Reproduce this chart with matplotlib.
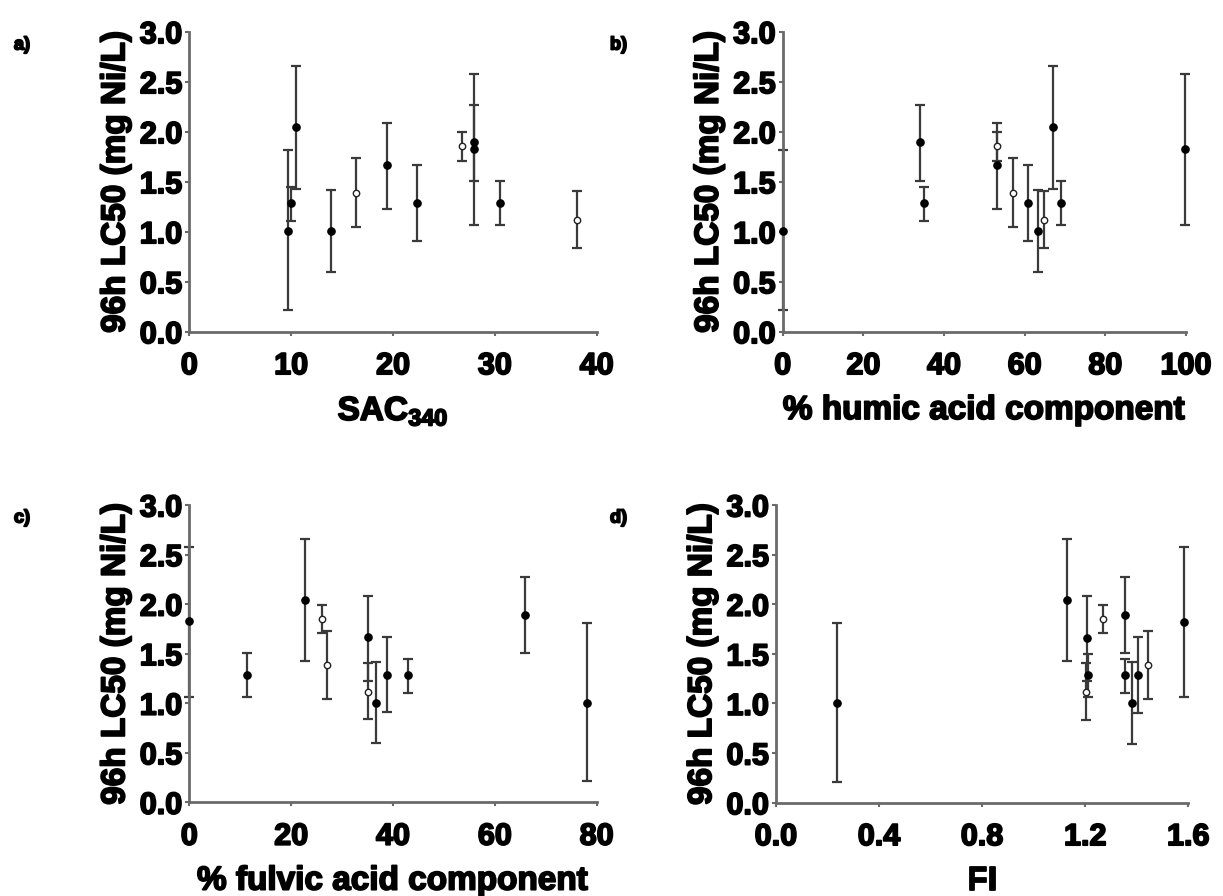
import matplotlib
matplotlib.use("Agg")
import matplotlib.pyplot as plt
import matplotlib.patheffects as pe
import numpy as np

plt.rcParams['font.family'] = ['Liberation Sans', 'DejaVu Sans']
plt.rcParams['font.weight'] = 'bold'
plt.rcParams['mathtext.fontset'] = 'custom'
plt.rcParams['mathtext.rm'] = 'Liberation Sans:bold'
plt.rcParams['mathtext.bf'] = 'Liberation Sans:bold'

# 12 samples: LC50 and 95% confidence limits (mg Ni/L)
lc50 = [1.007, 1.283, 2.043, 1.007, 1.390, 1.663, 1.285, 1.853, 1.825, 1.893, 1.283, 1.118]
upper = [1.812, 1.445, 2.660, 1.415, 1.732, 2.084, 1.667, 1.995, 2.580, 2.270, 1.502, 1.405]
lower = [0.212, 1.105, 1.430, 0.594, 1.042, 1.227, 0.907, 1.710, 1.067, 1.510, 1.066, 0.838]
is_open = [False, False, False, False, True, False, False, True, False, False, False, True]

# x-variables per sample
sac340 = [9.67, 10.0, 10.45, 13.9, 16.4, 19.4, 22.4, 26.8, 28.0, 28.0, 30.5, 38.1]
humic_pct = [0.0, 35.0, 66.9, 63.2, 57.0, 53.1, 60.9, 53.1, 99.8, 34.0, 68.9, 64.9]
fulvic_pct = [78.0, 43.0, 22.7, 36.6, 27.0, 35.0, 38.9, 26.0, 0.0, 66.0, 11.3, 35.0]
fi = [0.238, 1.354, 1.130, 1.383, 1.445, 1.207, 1.404, 1.270, 1.582, 1.354, 1.212, 1.203]

y_ticks = [0.0, 0.5, 1.0, 1.5, 2.0, 2.5, 3.0]
panels = [
    dict(x=sac340, xlim=(0, 40), xticks=[0, 10, 20, 30, 40], xfmt='{:.0f}',
         xlabel=r'$\mathbf{SAC}_{\mathbf{340}}$', tag='a)'),
    dict(x=humic_pct, xlim=(0, 100), xticks=[0, 20, 40, 60, 80, 100], xfmt='{:.0f}',
         xlabel='% humic acid component', tag='b)'),
    dict(x=fulvic_pct, xlim=(0, 80), xticks=[0, 20, 40, 60, 80], xfmt='{:.0f}',
         xlabel='% fulvic acid component', tag='c)'),
    dict(x=fi, xlim=(0, 1.6), xticks=[0.0, 0.4, 0.8, 1.2, 1.6], xfmt='{:.1f}',
         xlabel='FI', tag='d)'),
]

W, H = 1223, 896
fig = plt.figure(figsize=(W / 100, H / 100), dpi=100)

# axes rectangles in pixels: left, right, top, bottom
rects = [(189.3, 596.7, 31.7, 331.7), (782.7, 1186.0, 31.7, 331.7),
         (189.3, 596.7, 505.0, 802.3), (776.0, 1188.3, 505.0, 802.7)]
tag_pos = [(14, 45), (610, 45), (14, 518), (610, 518)]

spine_col = '#6a6a6a'
heavy = [pe.withStroke(linewidth=1.3, foreground='black')]
lc = np.array(lc50)
yerr = np.vstack([lc - np.array(lower), np.array(upper) - lc])

for p, (l, r, t, b), (tx, ty) in zip(panels, rects, tag_pos):
    ax = fig.add_axes([l / W, 1 - b / H, (r - l) / W, (b - t) / H])
    xs = np.array(p['x'])
    for i in range(len(xs)):
        ax.errorbar(xs[i], lc[i], yerr=yerr[:, i:i + 1], fmt='none',
                    ecolor='#3a3a3a', elinewidth=1.6, capsize=3.8, capthick=1.6,
                    clip_on=False, zorder=2)
    filled = ~np.array(is_open)
    ax.plot(xs[filled], lc[filled], 'o', ms=5.2, mfc='black', mec='black',
            clip_on=False, zorder=3)
    ax.plot(xs[~filled], lc[~filled], 'o', ms=4.6, mfc='white', mec='#222222',
            mew=1.0, clip_on=False, zorder=3)

    ax.set_xlim(*p['xlim'])
    ax.set_ylim(0, 3.0)
    ax.set_xticks(p['xticks'])
    ax.set_xticklabels([p['xfmt'].format(v) for v in p['xticks']])
    ax.set_yticks(y_ticks)
    ax.set_yticklabels(['{:.1f}'.format(v) for v in y_ticks])
    for s in ['top', 'right']:
        ax.spines[s].set_visible(False)
    for s in ['left', 'bottom']:
        ax.spines[s].set_color(spine_col)
        ax.spines[s].set_linewidth(2.0)
    ax.tick_params(axis='both', direction='out', length=3, width=1.5,
                   color=spine_col, labelsize=22, pad=2)
    ax.tick_params(axis='x', pad=11)
    for lab in ax.get_xticklabels() + ax.get_yticklabels():
        lab.set_fontweight('bold')
        lab.set_path_effects(heavy)
    ax.set_xlabel(p['xlabel'], fontsize=24, fontweight='bold', labelpad=10,
                  path_effects=heavy)
    ax.set_ylabel('96h LC50 (mg Ni/L)', fontsize=24, fontweight='bold', labelpad=6,
                  path_effects=heavy)
    fig.text(tx / W, 1 - ty / H, p['tag'], fontsize=13, fontweight='bold',
             ha='left', va='center', path_effects=heavy)

fig.savefig('out.png', dpi=100)
